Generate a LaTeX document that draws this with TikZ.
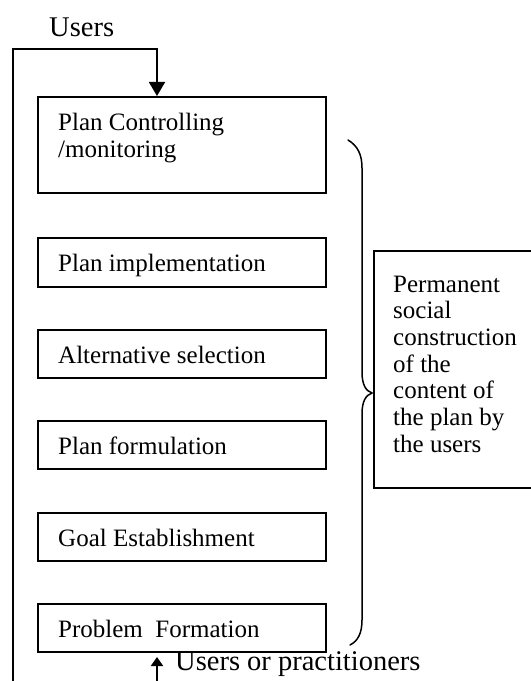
\documentclass[tikz,border=0pt]{standalone}
\usepackage{fontspec}
\setmainfont{Liberation Serif}
\usetikzlibrary{arrows.meta}
\newcommand\stagefont{\fontsize{25bp}{26.7bp}\selectfont}
\newcommand\userlabelfont{\fontsize{28.5bp}{30bp}\selectfont}
\begin{document}
\begin{tikzpicture}[x=1bp,y=-1bp,
  stage/.style={draw, line width=1.8bp, inner sep=0pt, minimum width=288bp, anchor=north west},
  stagetext/.style={inner sep=0pt, anchor=base west, font=\stagefont},
  multitext/.style={inner sep=0pt, anchor=north west, align=left, font=\stagefont},
  userlabel/.style={inner sep=0pt, anchor=base west, font=\userlabelfont},
  conn/.style={line width=1.9bp, line join=miter},
  bracestyle/.style={line width=1.5bp, line cap=round}]
\useasboundingbox (0,0) rectangle (531,681);

% stage boxes
\node[stage, minimum height=96bp] (b1) at (37,96) {};
\node[stage, minimum height=49bp] (b2) at (37,237) {};
\node[stage, minimum height=48bp] (b3) at (37,329) {};
\node[stage, minimum height=48bp] (b4) at (37,420) {};
\node[stage, minimum height=48bp] (b5) at (37,512) {};
\node[stage, minimum height=48bp] (b6) at (37,603) {};

% stage texts
\node[multitext] (t1) at (58,113) {Plan Controlling\\/monitoring};
\node[stagetext] (t2) at (58,271) {Plan implementation};
\node[stagetext] (t3) at (58,363) {Alternative selection};
\node[stagetext] (t4) at (58,454) {Plan formulation};
\node[stagetext] (t5) at (58,546) {Goal Establishment};
\node[stagetext] (t6) at (58,637) {Problem\ \ Formation};

% right box
\node[stage, minimum width=172bp, minimum height=237bp] (rb) at (373,250) {};
\node[multitext] (rt) at (393,275.5) {Permanent\\social\\construction\\of the\\content of\\the plan by\\the users};

% labels
\node[userlabel] (u1) at (49,37) {Users};
\node[userlabel] (u2) at (175,670) {Users or practitioners};

% feedback loop with arrow into top box
\coordinate (lb) at (13,681);
\coordinate (lt) at (13,49);
\coordinate (at) at (157,49);
\draw[conn, -{Triangle[width=16bp,length=14bp]}] (lb) -- (lt) -- (at) -- (at |- b1.north);

% bottom arrow
\coordinate (bb) at (157,681);
\coordinate (bt) at (157,657);
\draw[conn, -{Triangle[width=12bp,length=9bp]}] (bb) -- (bt);

% brace
\coordinate (btop) at (348,140);
\coordinate (btip) at (372,393);
\coordinate (bbot) at (350,645);
\draw[bracestyle] (btop) .. controls (358,146) and (362,155) .. (362,168)
  -- (362,372) .. controls (362,385) and (366,391) .. (btip)
  .. controls (366,395) and (362,401) .. (362,414)
  -- (362,620) .. controls (362,633) and (358,641) .. (bbot);
\end{tikzpicture}
\end{document}
